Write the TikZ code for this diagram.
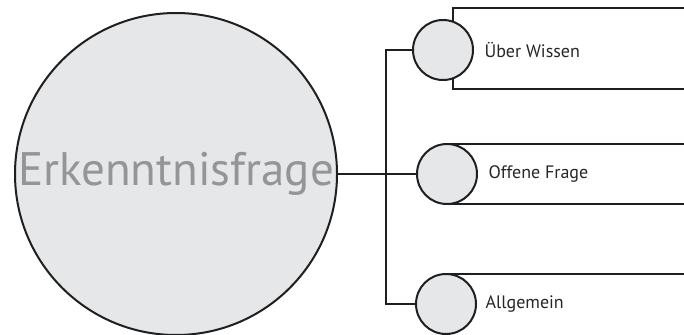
\documentclass[tikz,border=0pt]{standalone}
\usepackage{fontspec}
\setmainfont{PT Sans}
\definecolor{discfill}{HTML}{E6E7E8}
\definecolor{titlegray}{HTML}{939598}
\begin{document}
\begin{tikzpicture}[x=1pt,y=-1pt,
  disc/.style={circle,draw=black!88,fill=discfill,line width=2pt,inner sep=0pt,minimum size=60pt},
  bigdisc/.style={circle,draw=black!88,fill=discfill,line width=2pt,inner sep=0pt,minimum size=322pt},
  label/.style={anchor=west,font=\fontsize{18}{21}\selectfont,text=black!85},
  wire/.style={draw=black!88,line width=2pt},
  frame/.style={draw=black!88,line width=2pt}]
\useasboundingbox (0,0) rectangle (684,334);
% anchor points of the label frames
\coordinate (f1a) at (453,8.5);
\coordinate (f1b) at (453,89.5);
\coordinate (c1) at (443,50);
\coordinate (c2) at (447,174);
\coordinate (c3) at (446,304);
% label frames, drawn first so the discs sit on top
\draw[frame] (453,40) -- (f1a) -- (684,8.5);
\draw[frame] (453,60) -- (f1b) -- (684,89.5);
\draw[frame] (c2) ++(0,-30) -- (684,144);
\draw[frame] (c2) ++(0,30) -- (684,204);
\draw[frame] (c3) ++(0,-30) -- (684,274);
% main question disc
\node[bigdisc] (main) at (176,174) {};
\node[font=\fontsize{47}{52}\selectfont,text=titlegray] (maintext) at (176,174) {Erkenntnisfrage};
% branch discs
\node[disc] (d1) at (c1) {};
\node[disc] (d2) at (c2) {};
\node[disc] (d3) at (c3) {};
% connectors
\draw[wire] (main.east) -- (d2.west);
\draw[wire] (d1.west) -| (386,304) -- (d3.west);
% labels
\node[label] (t1) at (481,50) {Über Wissen};
\node[label] (t2) at (485,174) {Offene Frage};
\node[label] (t3) at (482,304) {Allgemein};
\end{tikzpicture}
\end{document}
